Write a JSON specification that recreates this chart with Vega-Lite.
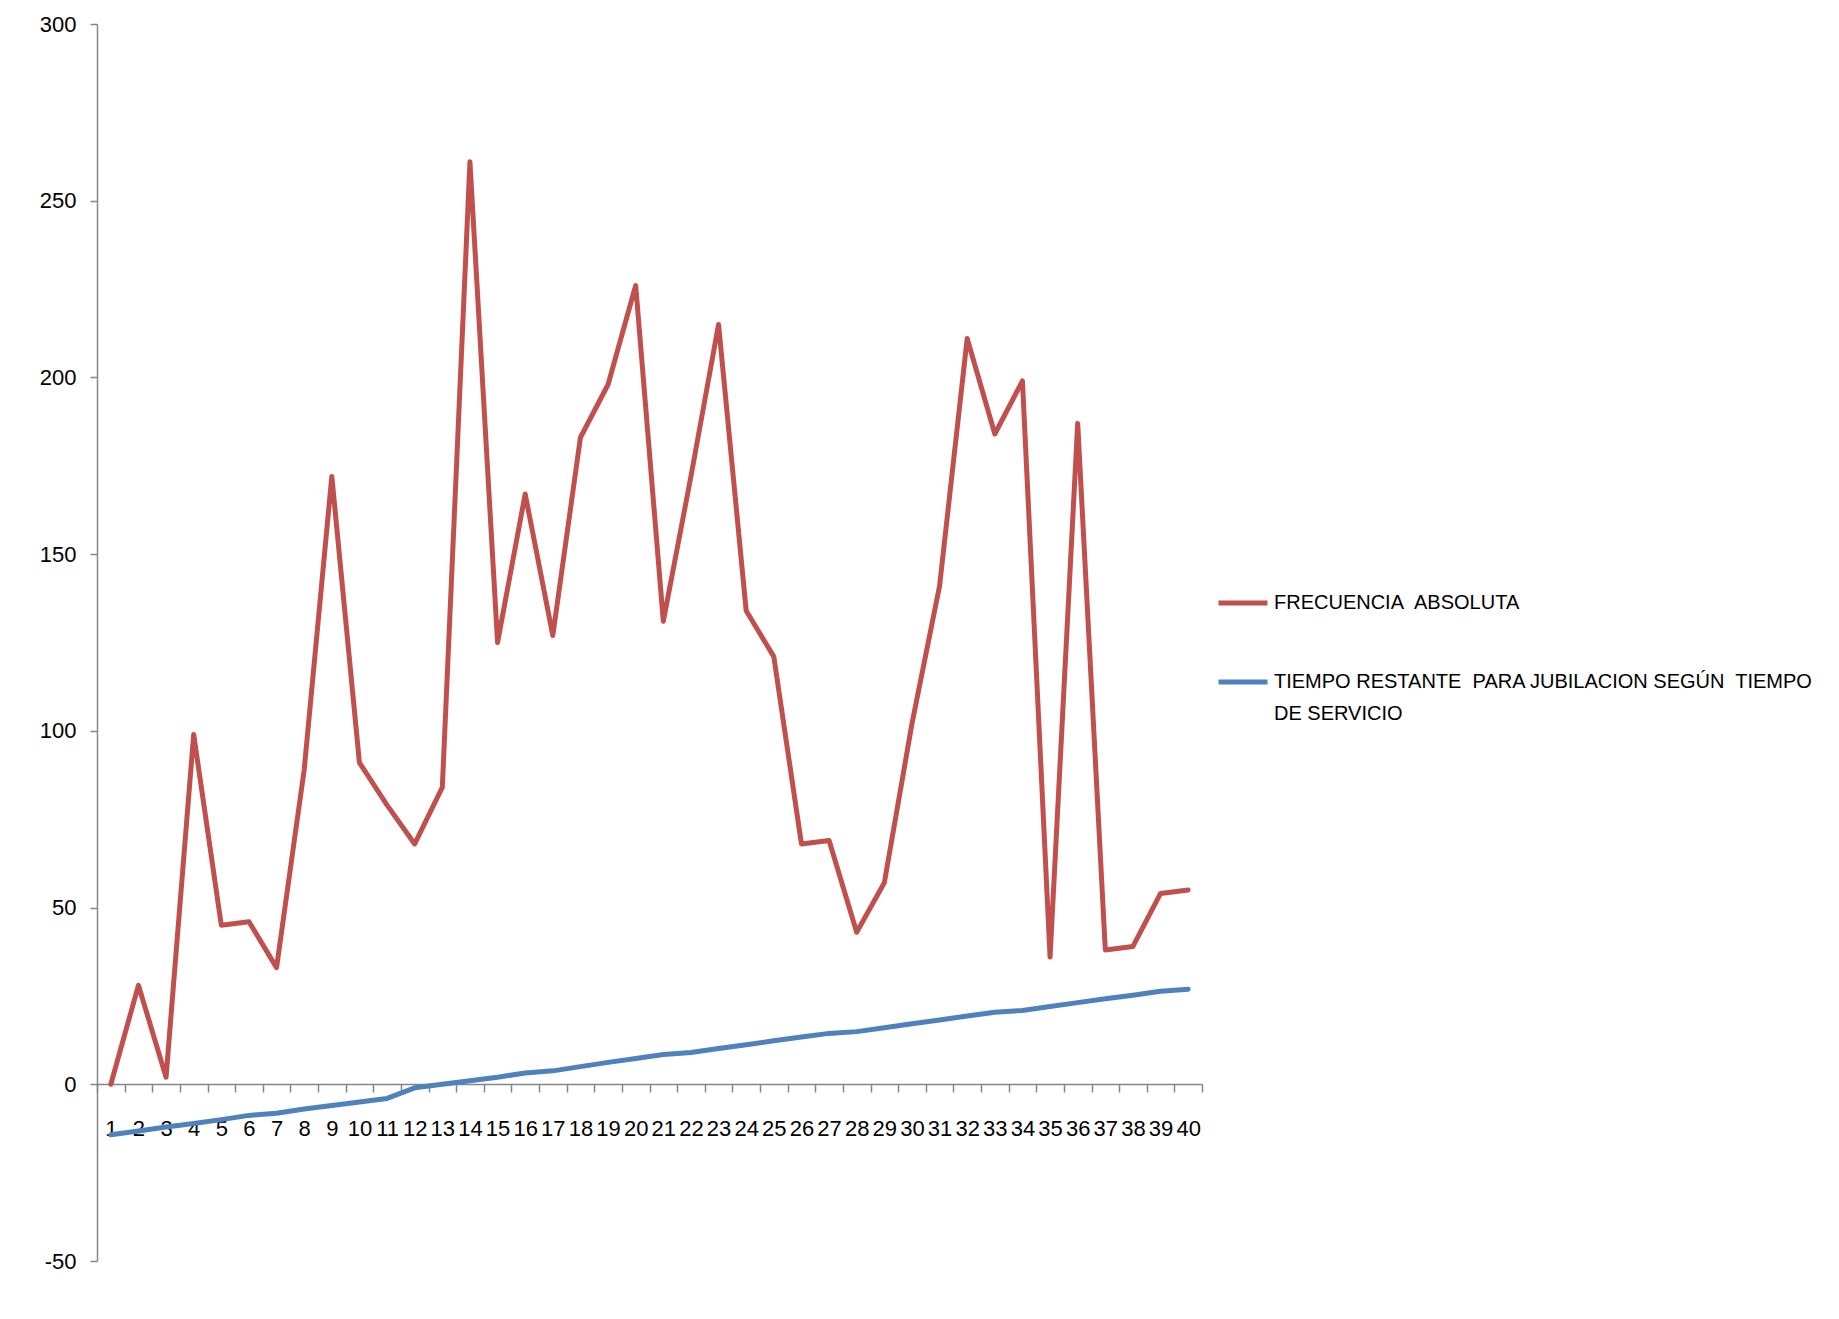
{
  "$schema": "https://vega.github.io/schema/vega-lite/v6.json",
  "width": 1105,
  "height": 1237,
  "autosize": {"type": "none"},
  "padding": {"left": 97, "top": 24, "right": 637, "bottom": 58},
  "background": "white",
  "config": {
    "view": {"stroke": null},
    "font": "Liberation Sans",
    "style": {"guide-label": {"lineHeight": 32}},
    "axis": {
      "domainColor": "#868686",
      "domainWidth": 1.5,
      "tickColor": "#868686",
      "tickWidth": 1.5,
      "labelColor": "#000000",
      "labelFont": "Liberation Sans",
      "labelFontSize": 22,
      "grid": false,
      "title": null
    }
  },
  "data": {
    "values": [
      {"x": 1, "serie": "FRECUENCIA  ABSOLUTA", "valor": 0},
      {"x": 2, "serie": "FRECUENCIA  ABSOLUTA", "valor": 28},
      {"x": 3, "serie": "FRECUENCIA  ABSOLUTA", "valor": 2},
      {"x": 4, "serie": "FRECUENCIA  ABSOLUTA", "valor": 99},
      {"x": 5, "serie": "FRECUENCIA  ABSOLUTA", "valor": 45},
      {"x": 6, "serie": "FRECUENCIA  ABSOLUTA", "valor": 46},
      {"x": 7, "serie": "FRECUENCIA  ABSOLUTA", "valor": 33},
      {"x": 8, "serie": "FRECUENCIA  ABSOLUTA", "valor": 89},
      {"x": 9, "serie": "FRECUENCIA  ABSOLUTA", "valor": 172},
      {"x": 10, "serie": "FRECUENCIA  ABSOLUTA", "valor": 91},
      {"x": 11, "serie": "FRECUENCIA  ABSOLUTA", "valor": 79},
      {"x": 12, "serie": "FRECUENCIA  ABSOLUTA", "valor": 68},
      {"x": 13, "serie": "FRECUENCIA  ABSOLUTA", "valor": 84},
      {"x": 14, "serie": "FRECUENCIA  ABSOLUTA", "valor": 261},
      {"x": 15, "serie": "FRECUENCIA  ABSOLUTA", "valor": 125},
      {"x": 16, "serie": "FRECUENCIA  ABSOLUTA", "valor": 167},
      {"x": 17, "serie": "FRECUENCIA  ABSOLUTA", "valor": 127},
      {"x": 18, "serie": "FRECUENCIA  ABSOLUTA", "valor": 183},
      {"x": 19, "serie": "FRECUENCIA  ABSOLUTA", "valor": 198},
      {"x": 20, "serie": "FRECUENCIA  ABSOLUTA", "valor": 226},
      {"x": 21, "serie": "FRECUENCIA  ABSOLUTA", "valor": 131},
      {"x": 22, "serie": "FRECUENCIA  ABSOLUTA", "valor": 172},
      {"x": 23, "serie": "FRECUENCIA  ABSOLUTA", "valor": 215},
      {"x": 24, "serie": "FRECUENCIA  ABSOLUTA", "valor": 134},
      {"x": 25, "serie": "FRECUENCIA  ABSOLUTA", "valor": 121},
      {"x": 26, "serie": "FRECUENCIA  ABSOLUTA", "valor": 68},
      {"x": 27, "serie": "FRECUENCIA  ABSOLUTA", "valor": 69},
      {"x": 28, "serie": "FRECUENCIA  ABSOLUTA", "valor": 43},
      {"x": 29, "serie": "FRECUENCIA  ABSOLUTA", "valor": 57},
      {"x": 30, "serie": "FRECUENCIA  ABSOLUTA", "valor": 102},
      {"x": 31, "serie": "FRECUENCIA  ABSOLUTA", "valor": 141},
      {"x": 32, "serie": "FRECUENCIA  ABSOLUTA", "valor": 211},
      {"x": 33, "serie": "FRECUENCIA  ABSOLUTA", "valor": 184},
      {"x": 34, "serie": "FRECUENCIA  ABSOLUTA", "valor": 199},
      {"x": 35, "serie": "FRECUENCIA  ABSOLUTA", "valor": 36},
      {"x": 36, "serie": "FRECUENCIA  ABSOLUTA", "valor": 187},
      {"x": 37, "serie": "FRECUENCIA  ABSOLUTA", "valor": 38},
      {"x": 38, "serie": "FRECUENCIA  ABSOLUTA", "valor": 39},
      {"x": 39, "serie": "FRECUENCIA  ABSOLUTA", "valor": 54},
      {"x": 40, "serie": "FRECUENCIA  ABSOLUTA", "valor": 55},
      {"x": 1, "serie": "TIEMPO RESTANTE  PARA JUBILACION SEGÚN  TIEMPO DE SERVICIO", "valor": -14.3},
      {"x": 2, "serie": "TIEMPO RESTANTE  PARA JUBILACION SEGÚN  TIEMPO DE SERVICIO", "valor": -13.2},
      {"x": 3, "serie": "TIEMPO RESTANTE  PARA JUBILACION SEGÚN  TIEMPO DE SERVICIO", "valor": -12.1},
      {"x": 4, "serie": "TIEMPO RESTANTE  PARA JUBILACION SEGÚN  TIEMPO DE SERVICIO", "valor": -11.1},
      {"x": 5, "serie": "TIEMPO RESTANTE  PARA JUBILACION SEGÚN  TIEMPO DE SERVICIO", "valor": -10},
      {"x": 6, "serie": "TIEMPO RESTANTE  PARA JUBILACION SEGÚN  TIEMPO DE SERVICIO", "valor": -8.8},
      {"x": 7, "serie": "TIEMPO RESTANTE  PARA JUBILACION SEGÚN  TIEMPO DE SERVICIO", "valor": -8.2},
      {"x": 8, "serie": "TIEMPO RESTANTE  PARA JUBILACION SEGÚN  TIEMPO DE SERVICIO", "valor": -7},
      {"x": 9, "serie": "TIEMPO RESTANTE  PARA JUBILACION SEGÚN  TIEMPO DE SERVICIO", "valor": -6},
      {"x": 10, "serie": "TIEMPO RESTANTE  PARA JUBILACION SEGÚN  TIEMPO DE SERVICIO", "valor": -5},
      {"x": 11, "serie": "TIEMPO RESTANTE  PARA JUBILACION SEGÚN  TIEMPO DE SERVICIO", "valor": -4},
      {"x": 12, "serie": "TIEMPO RESTANTE  PARA JUBILACION SEGÚN  TIEMPO DE SERVICIO", "valor": -1},
      {"x": 13, "serie": "TIEMPO RESTANTE  PARA JUBILACION SEGÚN  TIEMPO DE SERVICIO", "valor": 0},
      {"x": 14, "serie": "TIEMPO RESTANTE  PARA JUBILACION SEGÚN  TIEMPO DE SERVICIO", "valor": 1},
      {"x": 15, "serie": "TIEMPO RESTANTE  PARA JUBILACION SEGÚN  TIEMPO DE SERVICIO", "valor": 2},
      {"x": 16, "serie": "TIEMPO RESTANTE  PARA JUBILACION SEGÚN  TIEMPO DE SERVICIO", "valor": 3.2},
      {"x": 17, "serie": "TIEMPO RESTANTE  PARA JUBILACION SEGÚN  TIEMPO DE SERVICIO", "valor": 3.8},
      {"x": 18, "serie": "TIEMPO RESTANTE  PARA JUBILACION SEGÚN  TIEMPO DE SERVICIO", "valor": 5},
      {"x": 19, "serie": "TIEMPO RESTANTE  PARA JUBILACION SEGÚN  TIEMPO DE SERVICIO", "valor": 6.2},
      {"x": 20, "serie": "TIEMPO RESTANTE  PARA JUBILACION SEGÚN  TIEMPO DE SERVICIO", "valor": 7.3},
      {"x": 21, "serie": "TIEMPO RESTANTE  PARA JUBILACION SEGÚN  TIEMPO DE SERVICIO", "valor": 8.4},
      {"x": 22, "serie": "TIEMPO RESTANTE  PARA JUBILACION SEGÚN  TIEMPO DE SERVICIO", "valor": 9},
      {"x": 23, "serie": "TIEMPO RESTANTE  PARA JUBILACION SEGÚN  TIEMPO DE SERVICIO", "valor": 10.1},
      {"x": 24, "serie": "TIEMPO RESTANTE  PARA JUBILACION SEGÚN  TIEMPO DE SERVICIO", "valor": 11.2},
      {"x": 25, "serie": "TIEMPO RESTANTE  PARA JUBILACION SEGÚN  TIEMPO DE SERVICIO", "valor": 12.3},
      {"x": 26, "serie": "TIEMPO RESTANTE  PARA JUBILACION SEGÚN  TIEMPO DE SERVICIO", "valor": 13.4},
      {"x": 27, "serie": "TIEMPO RESTANTE  PARA JUBILACION SEGÚN  TIEMPO DE SERVICIO", "valor": 14.4},
      {"x": 28, "serie": "TIEMPO RESTANTE  PARA JUBILACION SEGÚN  TIEMPO DE SERVICIO", "valor": 14.9},
      {"x": 29, "serie": "TIEMPO RESTANTE  PARA JUBILACION SEGÚN  TIEMPO DE SERVICIO", "valor": 16},
      {"x": 30, "serie": "TIEMPO RESTANTE  PARA JUBILACION SEGÚN  TIEMPO DE SERVICIO", "valor": 17.1},
      {"x": 31, "serie": "TIEMPO RESTANTE  PARA JUBILACION SEGÚN  TIEMPO DE SERVICIO", "valor": 18.2},
      {"x": 32, "serie": "TIEMPO RESTANTE  PARA JUBILACION SEGÚN  TIEMPO DE SERVICIO", "valor": 19.3},
      {"x": 33, "serie": "TIEMPO RESTANTE  PARA JUBILACION SEGÚN  TIEMPO DE SERVICIO", "valor": 20.4},
      {"x": 34, "serie": "TIEMPO RESTANTE  PARA JUBILACION SEGÚN  TIEMPO DE SERVICIO", "valor": 20.9},
      {"x": 35, "serie": "TIEMPO RESTANTE  PARA JUBILACION SEGÚN  TIEMPO DE SERVICIO", "valor": 22},
      {"x": 36, "serie": "TIEMPO RESTANTE  PARA JUBILACION SEGÚN  TIEMPO DE SERVICIO", "valor": 23.1},
      {"x": 37, "serie": "TIEMPO RESTANTE  PARA JUBILACION SEGÚN  TIEMPO DE SERVICIO", "valor": 24.2},
      {"x": 38, "serie": "TIEMPO RESTANTE  PARA JUBILACION SEGÚN  TIEMPO DE SERVICIO", "valor": 25.2},
      {"x": 39, "serie": "TIEMPO RESTANTE  PARA JUBILACION SEGÚN  TIEMPO DE SERVICIO", "valor": 26.3},
      {"x": 40, "serie": "TIEMPO RESTANTE  PARA JUBILACION SEGÚN  TIEMPO DE SERVICIO", "valor": 26.9}
    ]
  },
  "mark": {"type": "line", "strokeWidth": 5, "strokeJoin": "round", "strokeCap": "round"},
  "encoding": {
    "x": {
      "field": "x",
      "type": "ordinal",
      "sort": "ascending",
      "scale": {"type": "band", "paddingInner": 0, "paddingOuter": 0},
      "axis": {
        "offset": -177,
        "labelAngle": 0,
        "tickBand": "extent",
        "tickSize": 8,
        "labelPadding": 26,
        "labelBaseline": "top"
      }
    },
    "y": {
      "field": "valor",
      "type": "quantitative",
      "scale": {"domain": [-50, 300], "nice": false, "zero": false},
      "axis": {
        "values": [-50, 0, 50, 100, 150, 200, 250, 300],
        "labelExpr": "datum.value + ''",
        "tickSize": 7,
        "labelPadding": 14
      }
    },
    "color": {
      "field": "serie",
      "type": "nominal",
      "scale": {
        "domain": ["FRECUENCIA  ABSOLUTA", "TIEMPO RESTANTE  PARA JUBILACION SEGÚN  TIEMPO DE SERVICIO"],
        "range": ["#C0504D", "#4F81BD"]
      },
      "legend": {
        "title": null,
        "orient": "none",
        "legendX": 1119,
        "legendY": 552,
        "symbolType": "stroke",
        "symbolStrokeWidth": 5,
        "symbolSize": 2400,
        "labelFont": "Liberation Sans",
        "labelFontSize": 20,
        "labelColor": "#000000",
        "labelLimit": 660,
        "labelOffset": 4,
        "rowPadding": 42,
        "labelExpr": "datum.label == 'FRECUENCIA  ABSOLUTA' ? 'FRECUENCIA\u00a0 ABSOLUTA' : ['TIEMPO RESTANTE\u00a0 PARA JUBILACION SEGÚN\u00a0 TIEMPO', 'DE SERVICIO']"
      }
    }
  }
}
